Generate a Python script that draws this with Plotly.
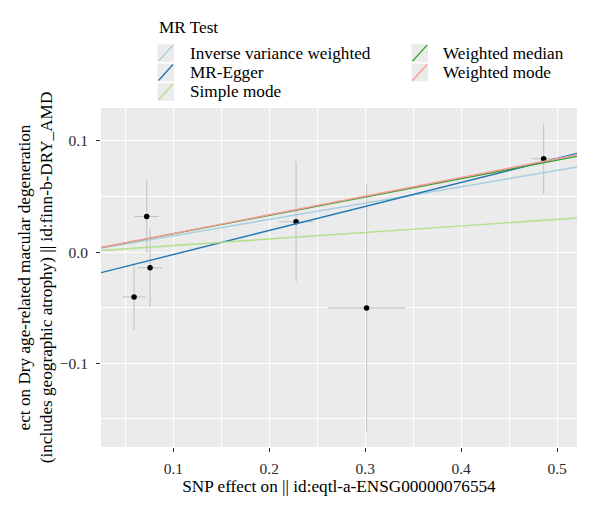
import plotly.graph_objects as go

# ---- data ----
snp_exposure = [0.059, 0.0722, 0.0757, 0.2279, 0.3014, 0.486]
snp_exposure_se = [0.0119, 0.0127, 0.0128, 0.018, 0.0407, 0.0122]
snp_outcome = [-0.0403, 0.0321, -0.0141, 0.0273, -0.0502, 0.0841]
snp_outcome_se = [0.030, 0.033, 0.035, 0.054, 0.1113, 0.0317]

methods = ["Inverse variance weighted", "MR-Egger", "Simple mode",
           "Weighted median", "Weighted mode"]
method_colors = ["#a6cee3", "#1f78b4", "#b2df8a", "#33a02c", "#fb9a99"]
method_slopes = [0.147, 0.2163, 0.0588, 0.1655, 0.168]
method_intercepts = [0.0, -0.0238, 0.0, 0.0, 0.0]

x_title = "SNP effect on || id:eqtl-a-ENSG00000076554"
y_title = "ect on Dry age-related macular degeneration<br>(includes geographic atrophy) || id:finn-b-DRY_AMD"
legend_title = "MR Test"

# ---- layout geometry ----
W, H = 600, 523
ML, MR_, MT, MB = 101, 23, 108, 76
FONT = "Liberation Serif"
TXT = 17.2

def expand(lo, hi, f=0.05):
    d = hi - lo
    return [lo - f * d, hi + f * d]

xr = expand(min(x - s for x, s in zip(snp_exposure, snp_exposure_se)),
            max(x + s for x, s in zip(snp_exposure, snp_exposure_se)))
yr = expand(min(y - s for y, s in zip(snp_outcome, snp_outcome_se)),
            max(y + s for y, s in zip(snp_outcome, snp_outcome_se)))

fig = go.Figure()

# points with error bars
fig.add_trace(go.Scatter(
    x=snp_exposure, y=snp_outcome, mode="markers",
    marker=dict(color="black", size=5.5),
    error_x=dict(type="data", array=snp_exposure_se, color="#C4C4C4", thickness=1.1, width=0),
    error_y=dict(type="data", array=snp_outcome_se, color="#C4C4C4", thickness=1.1, width=0),
    showlegend=False, hoverinfo="x+y"))

# regression lines across the panel
for name, col, b, a in zip(methods, method_colors, method_slopes, method_intercepts):
    fig.add_trace(go.Scatter(
        x=xr, y=[a + b * xr[0], a + b * xr[1]], mode="lines",
        line=dict(color=col, width=1.4), name=name, showlegend=False))

# ---- manual ggplot-style legend ----
pw, ph = W - ML - MR_, H - MT - MB
def px(x):
    return (x - ML) / pw
def py(y):
    return (H - MB - y) / ph

shapes = []
annotations = []
annotations.append(dict(text=legend_title, x=px(157), y=py(27), xref="paper", yref="paper",
                        xanchor="left", yanchor="middle", showarrow=False,
                        font=dict(family=FONT, size=TXT, color="black")))
col_x = [157.5, 411.5]
text_x = [188, 440.5]
row_y = [53.1, 72.5, 91.9]
for i, (name, col) in enumerate(zip(methods, method_colors)):
    c = 0 if i < 3 else 1
    r = i if i < 3 else i - 3
    x0, x1 = col_x[c], col_x[c] + 16.5
    yc = row_y[r]
    shapes.append(dict(type="rect", xref="paper", yref="paper",
                       x0=px(x0), x1=px(x1), y0=py(yc + 8.9), y1=py(yc - 8.9),
                       fillcolor="#EBEBEB", line=dict(width=0), layer="above"))
    shapes.append(dict(type="line", xref="paper", yref="paper",
                       x0=px(x0 + 1), x1=px(x1 - 1), y0=py(yc + 8), y1=py(yc - 8),
                       line=dict(color=col, width=1.4), layer="above"))
    annotations.append(dict(text=name, x=px(text_x[c]), y=py(yc), xref="paper", yref="paper",
                            xanchor="left", yanchor="middle", showarrow=False,
                            font=dict(family=FONT, size=TXT, color="black")))

axis_common = dict(showline=False, zeroline=False, ticks="outside", ticklen=4,
                   tickcolor="#333333", tickwidth=1,
                   showgrid=True, gridcolor="white", gridwidth=1.1,
                   tickfont=dict(family=FONT, size=15.5, color="#2b2b2b"))

fig.update_layout(
    width=W, height=H,
    margin=dict(l=ML, r=MR_, t=MT, b=MB, pad=0),
    paper_bgcolor="white", plot_bgcolor="#EBEBEB",
    font=dict(family=FONT, size=15, color="black"),
    xaxis=dict(range=xr, tick0=0, dtick=0.1, tickformat=".1f", ticklabelstandoff=3,
               minor=dict(dtick=0.05, tick0=0, showgrid=True, gridcolor="white", gridwidth=0.5, ticks=""),
               title=dict(text=x_title, font=dict(family=FONT, size=TXT, color="black"), standoff=1),
               **axis_common),
    yaxis=dict(range=yr, tick0=0, dtick=0.1, tickformat=".1f", ticklabelstandoff=5,
               minor=dict(dtick=0.05, tick0=0, showgrid=True, gridcolor="white", gridwidth=0.5, ticks=""),
               title=dict(text=y_title, font=dict(family=FONT, size=TXT, color="black"), standoff=2),
               **axis_common),
    shapes=shapes, annotations=annotations, showlegend=False,
)

fig.write_html("out.html")
